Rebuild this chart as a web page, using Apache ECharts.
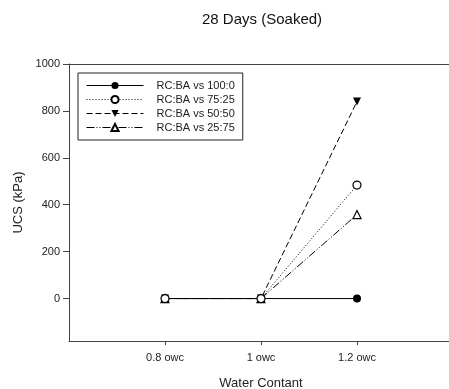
<!DOCTYPE html>
<html>
<head>
    <title>28 Days (Soaked)</title>
    <meta charset="utf-8">
    <script type="text/javascript" src="https://cdn.jsdelivr.net/npm/echarts@6/dist/echarts.min.js"></script>
    <style>
        html, body { margin: 0; padding: 0; background: #fff; }
    </style>
</head>
<body>
    <div id="main" style="width: 449px; height: 389px;"></div>
    <script type="text/javascript">
        // water content positions and labels
        const xValues = [0.8, 1.0, 1.2];
        const xLabels = ['0.8 owc', '1 owc', '1.2 owc'];
        const yTicks = [0, 200, 400, 600, 800, 1000];

        const names = ['RC:BA vs 100:0', 'RC:BA vs 75:25', 'RC:BA vs 50:50', 'RC:BA vs 25:75'];
        const ba100_0 = [0, 0, 0];
        const ba75_25 = [0, 0, 484];
        const ba50_50 = [0, 0, 840];
        const ba25_75 = [0, 0, 358];

        const font = 'Liberation Sans, Arial, sans-serif';
        const pair = (vals) => vals.map((v, i) => [xValues[i], v]);

        const chart = echarts.init(document.getElementById('main'));
        chart.setOption({
            animation: false,
            title: {
                text: '28 Days (Soaked)',
                left: 197, top: 7,
                textStyle: { fontFamily: font, fontSize: 15, fontWeight: 'normal', color: '#111' }
            },
            grid: {
                left: 69, top: 64, width: 384, height: 277,
                outerBoundsMode: 'none', containLabel: false
            },
            legend: {
                orient: 'vertical', left: 78, top: 73,
                itemWidth: 57, itemHeight: 9, itemGap: 3,
                padding: [7, 8, 7, 8],
                borderColor: '#222', borderWidth: 1,
                lineStyle: { width: 1 },
                textStyle: { fontFamily: font, fontSize: 11, color: '#222', padding: [0, 0, 0, 8] },
                data: names
            },
            xAxis: [
                {
                    type: 'value', min: 0.6, max: 1.4,
                    name: 'Water Contant', nameLocation: 'middle', nameGap: 36,
                    nameTextStyle: { fontFamily: font, fontSize: 13, color: '#222' },
                    axisLine: { show: true, onZero: false, lineStyle: { color: '#444' } },
                    axisTick: { show: true, length: 4, customValues: xValues, lineStyle: { color: '#444' } },
                    axisLabel: {
                        customValues: xValues, margin: 11,
                        fontFamily: font, fontSize: 11, color: '#222',
                        formatter: (v) => xLabels[xValues.findIndex(x => Math.abs(x - v) < 1e-6)]
                    },
                    splitLine: { show: false }
                },
                {
                    // top frame line
                    type: 'value', min: 0.6, max: 1.4, position: 'top',
                    axisLine: { show: true, onZero: false, lineStyle: { color: '#444' } },
                    axisTick: { show: false }, axisLabel: { show: false },
                    splitLine: { show: false }
                }
            ],
            yAxis: {
                type: 'value', min: -181, max: 1000,
                name: 'UCS (kPa)', nameLocation: 'middle', nameGap: 41,
                nameTextStyle: { fontFamily: font, fontSize: 13, color: '#222' },
                axisLine: { show: true, onZero: false, lineStyle: { color: '#444' } },
                axisTick: { show: true, length: 6, customValues: yTicks, lineStyle: { color: '#444' } },
                axisLabel: {
                    customValues: yTicks, margin: 9, fontFamily: font, fontSize: 11, color: '#222',
                    formatter: (v) => String(v)
                },
                splitLine: { show: false }
            },
            series: [
                {
                    name: names[0], type: 'line', data: pair(ba100_0),
                    symbol: 'circle', symbolSize: 8,
                    itemStyle: { color: '#000' },
                    lineStyle: { color: '#000', width: 1, type: 'solid' }
                },
                {
                    name: names[2], type: 'line', data: pair(ba50_50),
                    symbol: 'triangle', symbolRotate: 180, symbolSize: 8,
                    itemStyle: { color: '#000' },
                    lineStyle: { color: '#000', width: 1, type: [6, 3] }
                },
                {
                    name: names[3], type: 'line', data: pair(ba25_75),
                    symbol: 'triangle', symbolSize: 8,
                    itemStyle: { color: '#fff', borderColor: '#000', borderWidth: 1.2 },
                    lineStyle: { color: '#000', width: 1, type: [8, 2, 1, 2, 1, 2] }
                },
                {
                    name: names[1], type: 'line', data: pair(ba75_25),
                    symbol: 'circle', symbolSize: 8,
                    itemStyle: { color: '#fff', borderColor: '#000', borderWidth: 1.2 },
                    lineStyle: { color: '#000', width: 1, type: [1, 2] }
                }
            ]
        });
    </script>
</body>
</html>
